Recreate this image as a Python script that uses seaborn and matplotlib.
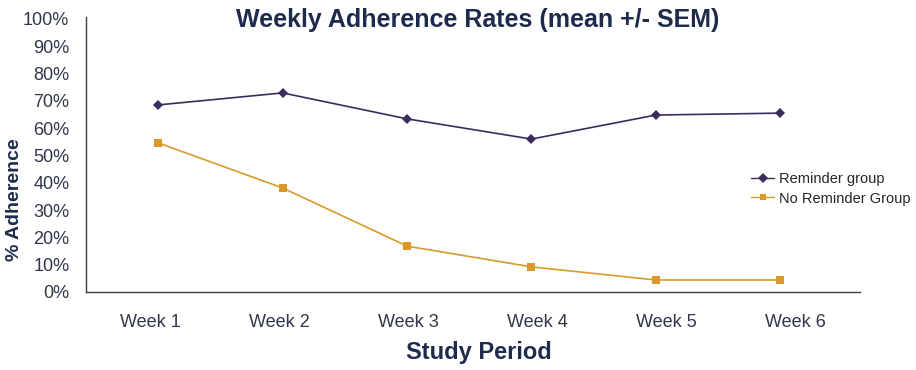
import matplotlib
matplotlib.use("Agg")
import matplotlib.pyplot as plt
import seaborn as sns
import pandas as pd

weeks = ["Week 1", "Week 2", "Week 3", "Week 4", "Week 5", "Week 6"]
reminder = [68.5, 72.9, 63.4, 56.0, 64.8, 65.5]
no_reminder = [54.6, 38.1, 16.8, 9.2, 4.4, 4.4]
series_names = ["Reminder group", "No Reminder Group"]
yticks = [0, 10, 20, 30, 40, 50, 60, 70, 80, 90, 100]

sns.set_theme(style="white")
plt.rcParams["font.family"] = ["Liberation Sans", "DejaVu Sans"]

df = pd.DataFrame({
    "week": weeks * 2,
    "x": list(range(len(weeks))) * 2,
    "value": reminder + no_reminder,
    "group": [series_names[0]] * len(weeks) + [series_names[1]] * len(weeks),
})

fig = plt.figure(figsize=(9.16, 3.70), dpi=100)
ax = fig.add_axes([86 / 916, 1 - 292 / 370, (860 - 86) / 916, (292 - 17) / 370])

palette = {series_names[0]: "#3b2c5e", series_names[1]: "#d99a2b"}
sns.lineplot(data=df, x="x", y="value", hue="group", style="group",
             markers={series_names[0]: "D", series_names[1]: "s"},
             dashes=False, palette=palette, linewidth=1.2,
             markersize=5.5, markeredgewidth=0, ax=ax, legend=True)

ax.set_xlim(-0.58, 5.64)
ax.set_ylim(0, 100.7)
ax.set_yticks(yticks)
ax.set_yticklabels([f"{v}%" for v in yticks])
# category labels sit on slightly wider spacing than the points in the reference
ax.set_xticks([-0.06 + 1.037 * i for i in range(len(weeks))])
ax.set_xticklabels(weeks)

tick_color = "#30364a"
ax.tick_params(axis="y", length=0, pad=12, labelsize=13, labelcolor=tick_color)
ax.tick_params(axis="x", length=0, pad=16, labelsize=13, labelcolor=tick_color)

for s in ["top", "right"]:
    ax.spines[s].set_visible(False)
for s in ["left", "bottom"]:
    ax.spines[s].set_color("#404040")
    ax.spines[s].set_linewidth(1.0)

title_color = "#1f2b4d"
fig.text(478 / 916, 1 - 20 / 370, "Weekly Adherence Rates (mean +/- SEM)",
         ha="center", va="center", fontsize=18, fontweight="bold", color=title_color)
ax.set_xlabel("")
ax.set_ylabel("")
fig.text(479 / 916, 1 - 353 / 370, "Study Period", ha="center", va="center",
         fontsize=17, fontweight="bold", color=title_color)
fig.text(15 / 916, 1 - 200 / 370, "% Adherence", ha="center", va="center",
         rotation=90, fontsize=14, fontweight="bold", color=title_color)

handles, labels = ax.get_legend_handles_labels()
leg = ax.legend(handles, labels, loc="center left",
                bbox_to_anchor=(745 / 916, 1 - 189 / 370),
                bbox_transform=fig.transFigure, frameon=False, fontsize=10.5,
                handlelength=1.6, handletextpad=0.3, labelspacing=0.35,
                borderaxespad=0)
for h in leg.legend_handles:
    h.set_markersize(5)
    h.set_linewidth(1.0)

fig.savefig("out.png", dpi=100)
